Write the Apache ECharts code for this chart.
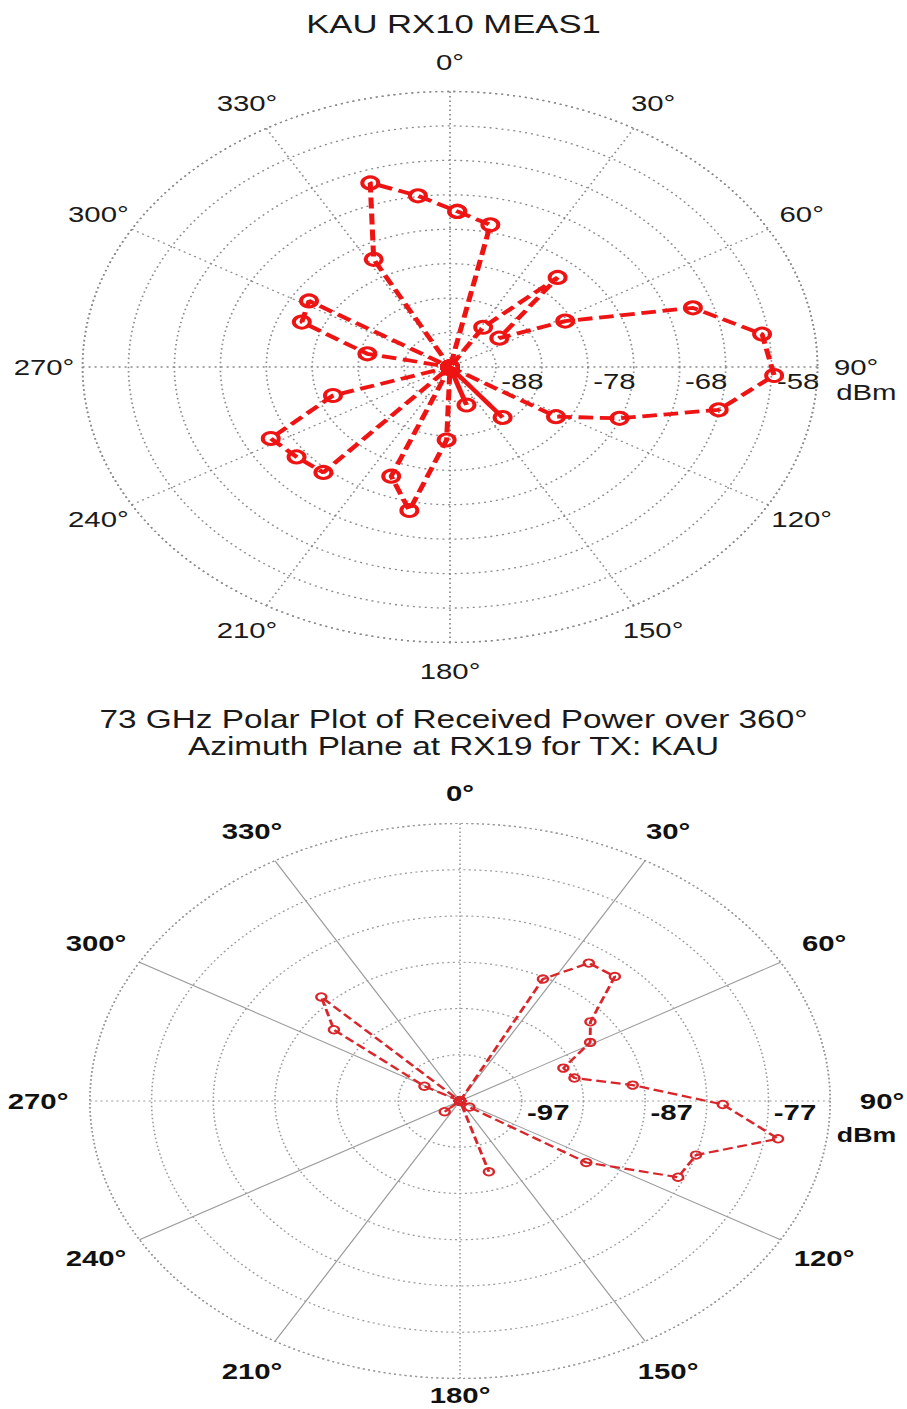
<!DOCTYPE html>
<html>
<head>
<meta charset="utf-8">
<script src="https://cdn.jsdelivr.net/npm/echarts@6/dist/echarts.min.js"></script>
<style>
html,body{margin:0;padding:0;background:#fff;overflow:hidden;}
#wrap{width:907px;height:1409px;overflow:hidden;position:relative;background:#fff;}
#chart{width:680px;height:1409px;transform:scaleX(1.333824);transform-origin:0 0;}
</style>
</head>
<body>
<div id="wrap"><div id="chart"></div></div>
<script>
// ---------- data ----------
const topTitle = 'KAU RX10 MEAS1';
const bottomTitleLines = ['73 GHz Polar Plot of Received Power over 360°', 'Azimuth Plane at RX19 for TX: KAU'];
const unitLabel = 'dBm';

// angle tick labels (shared by both plots)
const angleTickValues = [0,30,60,90,120,150,180,210,240,270,300,330];
const angleTickLabels = ['0°','30°','60°','90°','120°','150°','180°','210°','240°','270°','300°','330°'];

// top chart: azimuth (deg) and received power (dBm)
const topAngles = [2,12,22,32,42,52,62,72,82,92,102,112,122,132,142,152,162,172,182,192,202,212,222,232,242,252,262,272,282,292,302,312,322,332,342,352];
const topPower  = [-70.4,-71.9,-93,-86.2,-75.5,-86.2,-78.8,-65.2,-58.7,-57.7,-63.1,-73.1,-79.4,-93,-83.7,-93,-87.2,-93,-82.4,-71.7,-75.9,-93,-72.4,-71.8,-70.9,-79.6,-93,-93,-83.8,-75.6,-74.9,-93,-93,-75.3,-64.9,-67.9];
const topRadiusRange = [-93, -53];
const topRadiusTickLabels = ['-88','-78','-68','-58'];

// bottom chart
const bottomAngles = [3,11,19,27,35,43,51,59,67,75,83,91,99,107,115,123,131,139,147,155,163,171,179,187,195,203,211,219,227,235,243,251,259,267,275,283,291,299,307,315,323,331,339,347,355];
const bottomPower  = [-102,-102,-102,-87.2,-83.8,-83.6,-88.4,-89.7,-92.9,-92.4,-87.9,-80.7,-75.9,-82.0,-82.5,-89.8,-101.0,-102,-102,-102,-94.0,-102,-102,-102,-102,-102,-102,-102,-100.3,-102,-102,-102,-102,-102,-102,-102,-102,-98.7,-89.2,-86.1,-102,-102,-102,-102,-102];
const bottomRadiusRange = [-102, -72];
const bottomRadiusTickLabels = ['-97','-87','-77'];

const angleTickStep = 30;
const ringStep = 5;

// ---------- build ----------
const FONT = "'Liberation Sans', Arial, Helvetica, sans-serif";
const toAxisAngle = a => (a < 90 ? a + 360 : a);   // angle axis runs 90..450 so 90 sits at east
function polarData(angles, vals, close) {
  const d = angles.map((a, i) => [vals[i], toAxisAngle(a)]);
  if (close) d.push(d[0].slice());
  return d;
}
const CLEAR = 'rgba(0,0,0,0)';

const topC = [337.4, 367], topR = 275.5;
const botC = [344.9, 1101], botR = 277.5;

// angle labels are centred on a circle a little outside the outer ring
function angleLabelData(range, factorFn) {
  return angleTickValues.map((a, i) => ({
    value: [range[0] + (range[1] - range[0]) * factorFn(a), toAxisAngle(a)],
    name: angleTickLabels[i]
  }));
}
const topLabelFactor = a => 1.105;
const bottomLabelFactor = a => (a === 180 ? 1.062 : 1.108 + 0.032 * Math.abs(Math.sin(a * Math.PI / 180)));

function labelSeries(polarIndex, data, bold) {
  const c = bold ? '#111' : '#1a1a1a';
  return {
    type: 'scatter', coordinateSystem: 'polar', polarIndex, z: 6, silent: true, clip: false,
    symbolSize: 0, data,
    itemStyle: {opacity: 1, color: c},
    label: {show: true, position: 'inside', align: 'center', verticalAlign: 'middle',
            formatter: p => p.name, fontFamily: FONT, fontSize: 22, opacity: 1,
            textBorderWidth: 0, fontWeight: bold ? 'bold' : 'normal', color: c},
    labelLayout: {hideOverlap: false}
  };
}

const chart = echarts.init(document.getElementById('chart'), null, {renderer: 'svg'});
const option = {
  animation: false,
  backgroundColor: '#fff',
  title: [
    {text: topTitle, left: 'center', top: 6,
     textStyle: {fontFamily: FONT, fontSize: 26, fontWeight: 'normal', color: '#1a1a1a'}},
    {text: bottomTitleLines[0], left: 'center', top: 700,
     textStyle: {fontFamily: FONT, fontSize: 25, lineHeight: 28, fontWeight: 'normal', color: '#1a1a1a'}},
    {text: bottomTitleLines[1], left: 'center', top: 727,
     textStyle: {fontFamily: FONT, fontSize: 25, lineHeight: 28, fontWeight: 'normal', color: '#1a1a1a'}}
  ],
  polar: [
    {center: topC, radius: topR},
    {center: botC, radius: botR},
    {center: botC, radius: botR}
  ],
  angleAxis: [
    {polarIndex: 0, type: 'value', min: 90, max: 450, interval: angleTickStep, startAngle: 0, clockwise: true,
     axisLine: {show: true, lineStyle: {color: '#8a8a8a', width: 1.3, type: [1.5, 3]}},
     axisTick: {show: false}, axisLabel: {show: false},
     splitLine: {show: true, lineStyle: {color: '#8a8a8a', width: 1.3, type: [1.5, 3]}}},
    {polarIndex: 1, type: 'value', min: 90, max: 450, interval: angleTickStep, startAngle: 0, clockwise: true,
     axisLine: {show: true, lineStyle: {color: '#9a9a9a', width: 1.2, type: [1.5, 2.5]}},
     axisTick: {show: false}, axisLabel: {show: false},
     splitLine: {show: true, lineStyle: {color: ['#9a9a9a', CLEAR, CLEAR], width: 1.2, type: [1.5, 2.5]}}},
    {polarIndex: 2, type: 'value', min: 90, max: 450, interval: angleTickStep, startAngle: 0, clockwise: true,
     axisLine: {show: false}, axisTick: {show: false}, axisLabel: {show: false},
     splitLine: {show: true, lineStyle: {color: [CLEAR, '#9c9c9c', '#9c9c9c'], width: 1, type: 'solid'}}}
  ],
  radiusAxis: [
    {polarIndex: 0, type: 'value', min: topRadiusRange[0], max: topRadiusRange[1], interval: ringStep,
     axisLine: {show: false}, axisTick: {show: false},
     axisLabel: {formatter: v => topRadiusTickLabels.includes(String(v)) ? String(v) : '',
                 margin: -3, align: 'left', verticalAlign: 'top', padding: [0, 0, 0, 4],
                 fontFamily: FONT, fontSize: 22, color: '#1a1a1a', hideOverlap: false},
     splitLine: {show: true, lineStyle: {color: '#8a8a8a', width: 1.3, type: [1.5, 3]}},
     name: unitLabel, nameLocation: 'end', nameGap: 14,
     nameTextStyle: {fontFamily: FONT, fontSize: 22, color: '#1a1a1a', align: 'left', verticalAlign: 'top', padding: [14, 0, 0, 0]}},
    {polarIndex: 1, type: 'value', min: bottomRadiusRange[0], max: bottomRadiusRange[1], interval: ringStep,
     axisLine: {show: false}, axisTick: {show: false},
     axisLabel: {formatter: v => bottomRadiusTickLabels.includes(String(v)) ? String(v) : '',
                 margin: 0, align: 'left', verticalAlign: 'top', padding: [0, 0, 0, 4],
                 fontFamily: FONT, fontSize: 22, fontWeight: 'bold', color: '#111', hideOverlap: false},
     splitLine: {show: true, lineStyle: {color: '#9a9a9a', width: 1.2, type: [1.5, 2.5]}},
     name: unitLabel, nameLocation: 'end', nameGap: 5,
     nameTextStyle: {fontFamily: FONT, fontSize: 20, fontWeight: 'bold', color: '#111', align: 'left', verticalAlign: 'top', padding: [24, 0, 0, 0]}},
    {polarIndex: 2, type: 'value', min: bottomRadiusRange[0], max: bottomRadiusRange[1], interval: ringStep,
     axisLine: {show: false}, axisTick: {show: false}, axisLabel: {show: false}, splitLine: {show: false}}
  ],
  series: [
    {type: 'line', coordinateSystem: 'polar', polarIndex: 0, z: 5, silent: true,
     data: polarData(topAngles, topPower, true),
     symbol: 'circle', symbolSize: 12, showSymbol: true,
     lineStyle: {color: '#ee1414', width: 3.8, type: [11, 5]},
     itemStyle: {color: CLEAR, borderColor: '#ee1414', borderWidth: 3}},
    {type: 'line', coordinateSystem: 'polar', polarIndex: 1, z: 5, silent: true,
     data: polarData(bottomAngles, bottomPower, true),
     symbol: 'circle', symbolSize: 7.5, showSymbol: true,
     lineStyle: {color: '#d8262b', width: 2.2, type: [7.5, 3.5]},
     itemStyle: {color: CLEAR, borderColor: '#d8262b', borderWidth: 1.8}},
    labelSeries(0, angleLabelData(topRadiusRange, topLabelFactor), false),
    labelSeries(1, angleLabelData(bottomRadiusRange, bottomLabelFactor), true)
  ]
};
chart.setOption(option);
</script>
</body>
</html>
